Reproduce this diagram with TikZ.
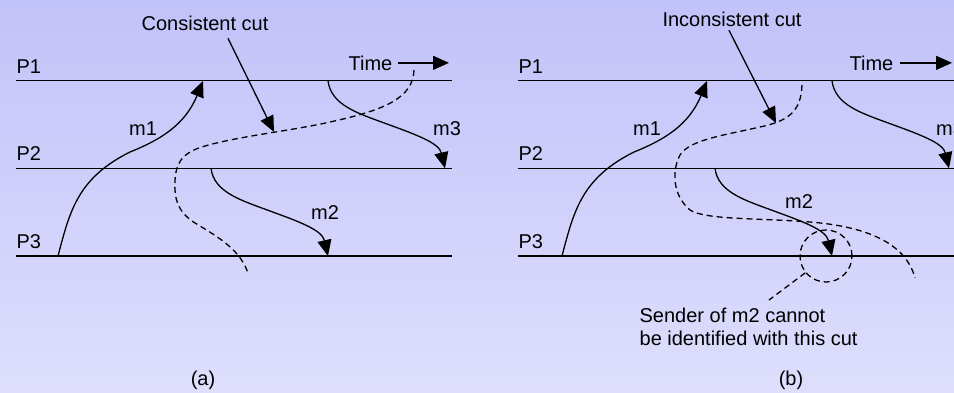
\documentclass[tikz,border=0pt]{standalone}
\usepackage{fontspec}
\setmainfont{Liberation Sans}
\usetikzlibrary{arrows.meta}
\definecolor{bgtop}{RGB}{194,194,250}
\definecolor{bgbottom}{RGB}{222,222,252}

\begin{document}
\begin{tikzpicture}[x=1pt, y=-1pt, line width=1.3pt,
    font=\fontsize{20}{23}\selectfont,
    arr/.style={-{Triangle[length=16pt,width=14pt]}},
    cut/.style={dash pattern=on 6pt off 4pt},
    lbl/.style={inner sep=0pt}]
    % Background
    \useasboundingbox (0,0) rectangle (954,392);
    \clip (0,0) rectangle (954,392);
    \shade[top color=bgtop, bottom color=bgbottom] (0,0) rectangle (954,392);

    % (a) Processes
    \foreach \i/\y in {1/80.7,2/168.3,3/256} {
        \node[lbl, anchor=base west] (a-p\i) at (16,\y-7.5) {P\i};
        \draw ([yshift=-7.5pt]a-p\i.base west) -- ++(436,0);
    }
    \node[lbl, anchor=base east] (a-time) at (393,70) {Time};
    \coordinate (a-timeend) at ([xshift=56pt]a-time.east);
    \draw[arr] ([xshift=5pt]a-time.east) -- (a-timeend);

    % (a) Messages
    \coordinate (a-m1s) at (58,256);
    \coordinate (a-m1e) at (203,81);
    \coordinate (a-m2s) at (211,168.3);
    \coordinate (a-m2e) at (328,256);
    \coordinate (a-m3s) at (328,80.7);
    \coordinate (a-m3e) at (445,168.3);
    \draw[arr] (a-m1s) .. controls (70,210) and (78,178) .. (130,152)
        .. controls (160,140) and (185,125) .. (a-m1e);
    \draw[arr] (a-m2s) .. controls (214,192) and (240,200) .. (270,211)
        .. controls (300,222) and (322,230) .. (a-m2e);
    \draw[arr] (a-m3s) .. controls (331,105) and (357,113) .. (387,124)
        .. controls (417,135) and (439,143) .. (a-m3e);
    \node (a-m1) at (143,129) {m1};
    \node (a-m2) at (325,213) {m2};
    \node (a-m3) at (447,129) {m3};

    % (a) Consistent cut
    \draw[cut] (414,70) .. controls (413,98) and (385,110) .. (330,122)
        .. controls (290,131) and (240,136) .. (205,146)
        .. controls (180,153) and (176,165) .. (175,180)
        .. controls (174,200) and (178,212) .. (195,223)
        .. controls (220,238) and (240,250) .. (248,273);
    \node (a-cutlbl) at (205,23) {Consistent cut};
    \coordinate (a-cuthit) at (274,132);
    \draw[arr] ([xshift=23pt,yshift=-4pt]a-cutlbl.south) -- (a-cuthit);
    \node (a-caption) at (203,380) {(a)};

    % (b) Processes
    \foreach \i/\y in {1/80.7,2/168.3,3/256} {
        \node[lbl, anchor=base west] (b-p\i) at (518,\y-7.5) {P\i};
        \draw ([yshift=-7.5pt]b-p\i.base west) -- ++(440,0);
    }
    \node[lbl, anchor=base east] (b-time) at (894,70) {Time};
    \coordinate (b-timeend) at ([xshift=58pt]b-time.east);
    \draw[arr] ([xshift=6pt]b-time.east) -- (b-timeend);

    % (b) Messages
    \coordinate (b-m1s) at (562,256);
    \coordinate (b-m1e) at (707,81);
    \coordinate (b-m2s) at (715,168.3);
    \coordinate (b-m2e) at (832,256);
    \coordinate (b-m3s) at (832,80.7);
    \coordinate (b-m3e) at (949,168.3);
    \draw[arr] (b-m1s) .. controls (574,210) and (582,178) .. (634,152)
        .. controls (664,140) and (689,125) .. (b-m1e);
    \draw[arr] (b-m2s) .. controls (718,192) and (744,200) .. (774,211)
        .. controls (804,222) and (826,230) .. (b-m2e);
    \draw[arr] (b-m3s) .. controls (835,105) and (861,113) .. (891,124)
        .. controls (921,135) and (943,143) .. (b-m3e);
    \node (b-m1) at (647,129) {m1};
    \node (b-m2) at (799,202) {m2};
    \node (b-m3) at (950,129) {m3};

    % (b) Inconsistent cut
    \draw[cut] (802,85) .. controls (801,112) and (788,121) .. (760,127)
        .. controls (720,136) and (690,140) .. (680,155)
        .. controls (672,170) and (672,195) .. (690,210)
        .. controls (705,220) and (760,218) .. (810,222)
        .. controls (860,226) and (905,240) .. (915,278);
    \node (b-cutlbl) at (732,19) {Inconsistent cut};
    \coordinate (b-cuthit) at (776,123);
    \draw[arr] ([xshift=-3pt]b-cutlbl.south) -- (b-cuthit);

    % Sender not found
    \node[circle, draw, cut, minimum size=52pt, inner sep=0pt] (b-focus) at (826,256) {};
    \node[lbl, anchor=north west, align=left] (b-note) at (639,307.5)
        {Sender of m2 cannot\\be identified with this cut};
    \coordinate (b-lead) at (769,300);
    \draw[cut] (b-focus.219) -- (b-lead);
    \node (b-caption) at (791,380) {(b)};
\end{tikzpicture}
\end{document}
